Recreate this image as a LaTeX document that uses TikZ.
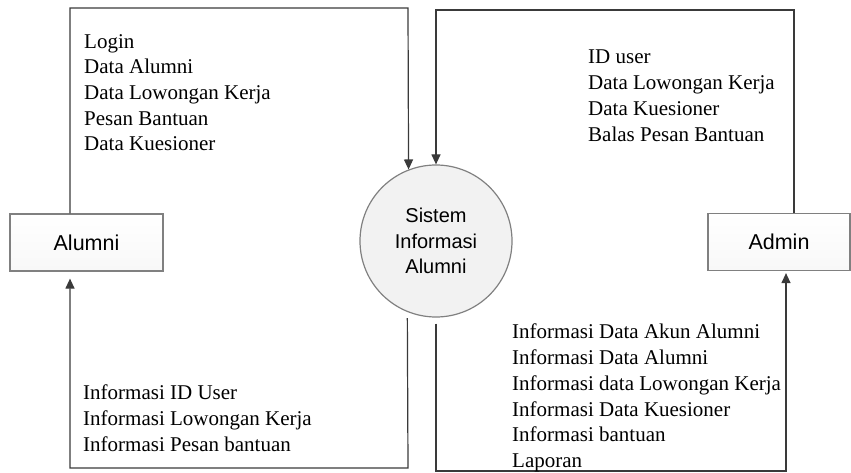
\documentclass[tikz,border=0pt]{standalone}
\usepackage{fontspec}
\setmainfont{Liberation Serif}
\setsansfont{Liberation Sans}
\usetikzlibrary{arrows.meta}
\definecolor{edge}{HTML}{3A3A3A}
\definecolor{rim}{HTML}{808080}
\definecolor{fillgray}{HTML}{F2F2F2}
\tikzset{
  entity/.style={draw=rim, line width=1.2pt, top color=white, bottom color=fillgray!80!gray!20,
    minimum width=#1, minimum height=57pt, inner sep=0pt,
    font=\sffamily\fontsize{21.5}{24}\selectfont},
  proc/.style={circle, draw=rim, line width=1.2pt, fill=fillgray, minimum size=152pt, inner sep=0pt,
    align=center, font=\sffamily\fontsize{20}{25.5}\selectfont},
  flow/.style={draw=edge, line width=1.2pt, -{Triangle[length=10pt,width=9pt]}},
  lbl/.style={anchor=north west, inner sep=0pt, align=left,
    font=\fontsize{21}{25.7}\selectfont}
}
\begin{document}
\begin{tikzpicture}[x=1pt,y=-1pt]
\useasboundingbox (0,0) rectangle (851,473);
\node[entity=153pt] (alumni) at (86.5,242.5) {Alumni};
\node[entity=142pt] (admin) at (779,242) {Admin};
\node[proc] (sys) at (436,241) {Sistem\\Informasi\\Alumni};

\coordinate (a1) at (70,8);
\coordinate (a2) at (408,8);
\coordinate (b1) at (794,10);
\coordinate (b2) at (436,10);
\coordinate (c1) at (408,468);
\coordinate (c2) at (70,468);
\coordinate (d1) at (436,471);
\coordinate (d2) at (786,471);

\draw[flow] (alumni.north -| a1) -- (a1) -- (a2) -- (sys.111.6);
\draw[flow] (admin.north -| b1) -- (b1) -- (b2) -- (sys.north);
\draw[flow, shorten <=6pt, shorten >=7pt] (sys.248.4) -- (c1) -- (c2) -- (alumni.south -| c2);
\draw[flow, shorten <=6pt, shorten >=2pt] (sys.south) -- (d1) -- (d2) -- (admin.south -| d2);

\node[lbl] (t1) at (84,34) {Login\\Data Alumni\\Data Lowongan Kerja\\Pesan Bantuan\\Data Kuesioner};
\node[lbl] (t2) at (588,50) {ID user\\Data Lowongan Kerja\\Data Kuesioner\\Balas Pesan Bantuan};
\node[lbl] (t3) at (83,385) {Informasi ID User\\Informasi Lowongan Kerja\\Informasi Pesan bantuan};
\node[lbl] (t4) at (512,324) {Informasi Data Akun Alumni\\Informasi Data Alumni\\Informasi data Lowongan Kerja\\Informasi Data Kuesioner\\Informasi bantuan\\Laporan};
\end{tikzpicture}
\end{document}
